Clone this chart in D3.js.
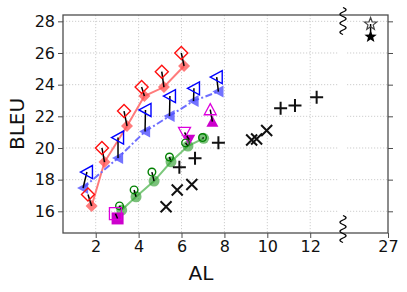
<!DOCTYPE html>
<html lang="en">
<head>
    <meta charset="UTF-8">
    <title>BLEU vs AL</title>
    <script src="https://d3js.org/d3.v7.min.js"></script>
    <style>
        body { margin: 0; background: #fff; }
        svg { display: block; font-family: "DejaVu Sans", sans-serif; }
    </style>
    <script>
        // values
        const redAL = [1.81, 2.41, 3.46, 4.27, 5.18, 6.12];
        const redBLEU = [16.33, 19.11, 21.39, 23.28, 23.85, 25.18];
        const redHollowAL = [1.64, 2.29, 3.32, 4.14, 5.08, 5.99];
        const redHollowBLEU = [17.06, 20.0, 22.33, 23.85, 24.82, 26.0];

        const blueAL = [1.41, 3.04, 4.30, 5.44, 6.56, 7.72];
        const blueBLEU = [17.47, 19.37, 21.04, 22.02, 22.97, 23.56];
        const blueHollowAL = [1.59, 3.04, 4.32, 5.46, 6.58, 7.64];
        const blueHollowBLEU = [18.48, 20.66, 22.40, 23.28, 23.77, 24.48];

        const greenAL = [3.21, 3.88, 4.72, 5.51, 6.30, 7.03];
        const greenBLEU = [16.08, 16.92, 17.91, 19.13, 20.12, 20.61];
        const greenHollowAL = [3.11, 3.79, 4.62, 5.44, 6.19, 6.98];
        const greenHollowBLEU = [16.34, 17.35, 18.48, 19.43, 20.32, 20.66];

        // magenta singles: square, triangle-up, triangle-down
        const magShapes = ["square", "triUp", "triDown"];
        const magAL = [3.02, 7.44, 6.36];
        const magBLEU = [15.55, 21.66, 20.52];
        const magHollowAL = [2.92, 7.34, 6.14];
        const magHollowBLEU = [15.85, 22.42, 20.98];

        const crossAL = [5.28, 5.80, 6.48, 9.27, 9.50, 9.97];
        const crossBLEU = [16.29, 17.35, 17.69, 20.50, 20.57, 21.10];
        const plusAL = [5.90, 6.63, 7.72, 10.62, 11.29, 12.30];
        const plusBLEU = [18.78, 19.35, 20.33, 22.51, 22.68, 23.20];

        const starAL = [26.15];
        const starBLEU = [27.03];
        const starHollowAL = [26.15];
        const starHollowBLEU = [27.83];

        const xTicksLeft = [2, 4, 6, 8, 10, 12];
        const xTicksRight = [27];
        const yTicks = [16, 18, 20, 22, 24, 26, 28];

        document.addEventListener("DOMContentLoaded", () => makeGraph());

        function zip(a, b) { return a.map((v, i) => ({x: v, y: b[i]})); }

        // custom marker shapes (r = half size)
        const shapes = {
            diamond: r => `M0,${-r}L${r},0L0,${r}L${-r},0Z`,
            triLeft: r => `M${-r},0L${r * 0.85},${-r}L${r * 0.85},${r}Z`,
            triUp: r => `M0,${-r}L${r},${r * 0.85}L${-r},${r * 0.85}Z`,
            triDown: r => `M0,${r}L${r},${-r * 0.85}L${-r},${-r * 0.85}Z`,
            square: r => `M${-r},${-r}H${r}V${r}H${-r}Z`,
            circle: r => `M${r},0A${r},${r},0,1,1,${-r},0A${r},${r},0,1,1,${r},0Z`,
            cross: r => `M${-r},${-r}L${r},${r}M${-r},${r}L${r},${-r}`,
            plus: r => `M${-r},0H${r}M0,${-r}V${r}`,
            star: r => {
                let p = "";
                for (let i = 0; i < 10; i++) {
                    const a = -Math.PI / 2 + i * Math.PI / 5;
                    const rr = i % 2 ? r * 0.42 : r;
                    p += (i ? "L" : "M") + (rr * Math.cos(a)).toFixed(2) + "," + (rr * Math.sin(a)).toFixed(2);
                }
                return p + "Z";
            }
        };

        function makeGraph() {
            const width = 407, height = 292;
            const left = 63, right = 388, top = 15, bottom = 233;
            const breakL = 341, breakR = 345;

            const svg = d3.select("#graph").attr("width", width).attr("height", height);

            const x1 = d3.scaleLinear().domain([0.475, 0.475 + (breakL - left) / 21.45]).range([left, breakL]);
            const x2 = d3.scaleLinear().domain([24.9, 27]).range([breakR, right]);
            const y = d3.scaleLinear().domain([14.63, 28.4]).range([bottom, top]);

            // grid
            const grid = svg.append("g").attr("stroke", "#c8c8c8").attr("stroke-width", 0.9)
                .attr("stroke-dasharray", "1.2,1.8");
            yTicks.forEach(t => {
                grid.append("line").attr("x1", left).attr("x2", breakL - 2).attr("y1", y(t)).attr("y2", y(t));
                grid.append("line").attr("x1", breakR + 2).attr("x2", right).attr("y1", y(t)).attr("y2", y(t));
            });
            xTicksLeft.forEach(t => {
                grid.append("line").attr("x1", x1(t)).attr("x2", x1(t)).attr("y1", top).attr("y2", bottom);
            });

            const plot = svg.append("g");

            function drawLine(xs, ys, color, dash) {
                plot.append("path").datum(zip(xs, ys))
                    .attr("fill", "none").attr("stroke", color).attr("stroke-width", 2)
                    .attr("stroke-dasharray", dash || null)
                    .attr("d", d3.line().x(d => x1(d.x)).y(d => y(d.y)));
            }

            function drawMarks(pts, shape, r, fill, stroke, sw, xs) {
                const sc = xs || x1;
                plot.append("g").selectAll("path").data(pts).join("path")
                    .attr("transform", d => `translate(${sc(d.x)},${y(d.y)})`)
                    .attr("d", d => shapes[d.shape || shape](r))
                    .attr("fill", fill).attr("stroke", stroke).attr("stroke-width", sw);
            }

            function drawLinks(a, b, xs) {
                const sc = xs || x1;
                plot.append("g").selectAll("line").data(a).join("line")
                    .attr("x1", d => sc(d.x)).attr("y1", d => y(d.y))
                    .attr("x2", (d, i) => sc(b[i].x)).attr("y2", (d, i) => y(b[i].y))
                    .attr("stroke", "#000").attr("stroke-width", 1.5);
            }

            // connecting lines of the three main series
            drawLine(redAL, redBLEU, "#ff7b7b");
            drawLine(blueAL, blueBLEU, "#6e6eff", "7,2.5,2,2.5");
            drawLine(greenAL, greenBLEU, "#7cc87c");

            // filled markers
            drawMarks(zip(redAL, redBLEU), "diamond", 6, "rgba(255,80,80,0.75)", "none", 0);
            drawMarks(zip(blueAL, blueBLEU), "triLeft", 6, "rgba(80,80,255,0.8)", "none", 0);
            drawMarks(zip(greenAL, greenBLEU), "circle", 5.5, "rgba(50,160,50,0.65)", "none", 0);
            drawMarks(zip(magAL, magBLEU).map((d, i) => ({...d, shape: magShapes[i]})), null, 6, "#cc00cc", "none", 0);
            drawMarks(zip(starAL, starBLEU), "star", 6.5, "#000", "none", 0, x2);

            // links hollow -> filled
            drawLinks(zip(redHollowAL, redHollowBLEU), zip(redAL, redBLEU));
            drawLinks(zip(blueHollowAL, blueHollowBLEU), zip(blueAL, blueBLEU));
            drawLinks(zip(greenHollowAL, greenHollowBLEU), zip(greenAL, greenBLEU));
            drawLinks(zip(magHollowAL, magHollowBLEU), zip(magAL, magBLEU));
            drawLinks(zip(starHollowAL, starHollowBLEU), zip(starAL, starBLEU), x2);

            // hollow markers
            drawMarks(zip(redHollowAL, redHollowBLEU), "diamond", 6.5, "none", "#ff1010", 1.4);
            drawMarks(zip(blueHollowAL, blueHollowBLEU), "triLeft", 6.5, "none", "#0000ff", 1.4);
            drawMarks(zip(greenHollowAL, greenHollowBLEU), "circle", 3.8, "none", "#008000", 1.4);
            drawMarks(zip(magHollowAL, magHollowBLEU).map((d, i) => ({...d, shape: magShapes[i]})), null, 6, "none", "#dd00dd", 1.3);
            drawMarks(zip(starHollowAL, starHollowBLEU), "star", 6.5, "none", "#444", 1.2, x2);

            // black cross / plus markers
            drawMarks(zip(crossAL, crossBLEU), "cross", 5.5, "none", "#111", 2);
            drawMarks(zip(plusAL, plusBLEU), "plus", 6.5, "none", "#111", 2);

            // frame
            svg.append("rect").attr("x", left).attr("y", top).attr("width", right - left).attr("height", bottom - top)
                .attr("fill", "none").attr("stroke", "#4d4d4d").attr("stroke-width", 1.3);

            // axes
            const axLeft = svg.append("g").attr("transform", `translate(${left},0)`)
                .call(d3.axisLeft(y).tickValues(yTicks).tickSize(5).tickPadding(3));
            const axRight = svg.append("g").attr("transform", `translate(${right},0)`)
                .call(d3.axisRight(y).tickValues(yTicks).tickSize(5).tickFormat(""));
            const axB1 = svg.append("g").attr("transform", `translate(0,${bottom})`)
                .call(d3.axisBottom(x1).tickValues(xTicksLeft).tickSize(5).tickPadding(3));
            const axB2 = svg.append("g").attr("transform", `translate(0,${bottom})`)
                .call(d3.axisBottom(x2).tickValues(xTicksRight).tickSize(5).tickPadding(3)
                    .tickFormat(d3.format("d")));
            [axLeft, axRight, axB1, axB2].forEach(a => {
                a.select(".domain").remove();
                a.selectAll("line").attr("stroke", "#4d4d4d").attr("stroke-width", 1);
                a.selectAll("text").attr("fill", "#111").style("font-size", "16px")
                    .style("font-family", "'DejaVu Sans', sans-serif");
            });

            // break squiggles
            const squig = cy => d3.range(0, 27.01, 0.5).map(t => [
                (breakL + breakR) / 2 + 3 * Math.sin(t / 27 * Math.PI * 6), cy - 13.5 + t]);
            [top + 6, bottom - 4].forEach(cy => {
                svg.append("path").attr("d", d3.line()(squig(cy)))
                    .attr("fill", "none").attr("stroke", "#000").attr("stroke-width", 1.3);
            });

            // axis titles
            svg.append("text").attr("x", 201).attr("y", 280)
                .attr("text-anchor", "middle").style("font-size", "20px").attr("fill", "#111").text("AL");
            svg.append("text").attr("transform", `translate(24,${(top + bottom) / 2}) rotate(-90)`)
                .attr("text-anchor", "middle").style("font-size", "20px").attr("fill", "#111").text("BLEU");
        }
    </script>
</head>
<body>
    <svg id="graph"></svg>
</body>
</html>
